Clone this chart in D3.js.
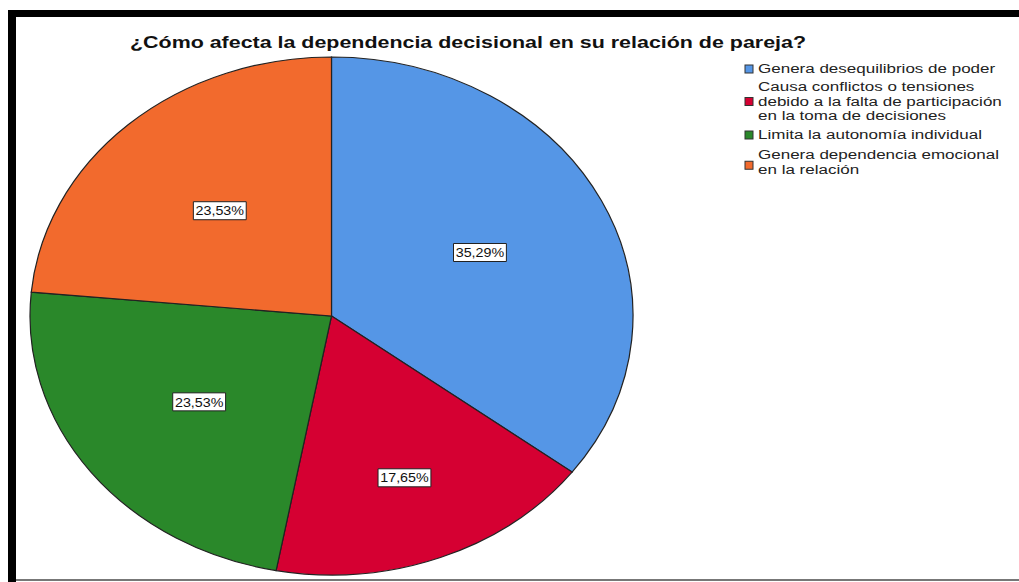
<!DOCTYPE html>
<html lang="es">
<head>
<meta charset="UTF-8">
<title>Dependencia decisional</title>
<script src="https://d3js.org/d3.v7.min.js"></script>
<style>
  body { margin: 0; background: #fff; }
  svg { display: block; font-family: "Liberation Sans", Arial, sans-serif; }
  .slice { stroke: #222; stroke-width: 1.2px; vector-effect: non-scaling-stroke; }
  .lbl text { font-size: 13px; fill: #111; }
  .legend text { font-size: 13.5px; fill: #222; }
</style>
</head>
<body>
<script>
// chart data (counts, n = 17)
const categories = [
  "Genera desequilibrios de poder",
  "Causa conflictos o tensiones debido a la falta de participación en la toma de decisiones",
  "Limita la autonomía individual",
  "Genera dependencia emocional en la relación"
];
const legendLines = [
  ["Genera desequilibrios de poder"],
  ["Causa conflictos o tensiones", "debido a la falta de participación", "en la toma de decisiones"],
  ["Limita la autonomía individual"],
  ["Genera dependencia emocional", "en la relación"]
];
const counts = [6, 3, 4, 4];
const colors = ["#5596e6", "#d50032", "#2a882a", "#f26a2d"];
const title = "¿Cómo afecta la dependencia decisional en su relación de pareja?";

const W = 1019, H = 582;
const svg = d3.select("body").append("svg").attr("width", W).attr("height", H);

// frame
svg.append("rect").attr("x", 8).attr("y", 10).attr("width", W - 8).attr("height", 7).attr("fill", "#000");
svg.append("rect").attr("x", 8).attr("y", 10).attr("width", 8).attr("height", H - 10).attr("fill", "#000");
svg.append("rect").attr("x", 16).attr("y", 579).attr("width", W - 16).attr("height", 2).attr("fill", "#777");

svg.append("text")
  .attr("x", 130).attr("y", 48)
  .attr("textLength", 676).attr("lengthAdjust", "spacingAndGlyphs")
  .attr("font-size", 17).attr("font-weight", "bold").attr("fill", "#111")
  .text(title);

// pie (circle stretched into an ellipse)
const cx = 331.5, cy = 316, rx = 301.5, ry = 259;
const R = 100;
const total = d3.sum(counts);
const pie = d3.pie().sort(null).value(d => d)(counts);
const arc = d3.arc().innerRadius(0).outerRadius(R);

const g = svg.append("g").attr("transform", `translate(${cx},${cy}) scale(${rx / R},${ry / R})`);
g.selectAll("path").data(pie).enter().append("path")
  .attr("class", "slice")
  .attr("d", arc)
  .attr("fill", (d, i) => colors[i]);

// percentage labels
const fmt = v => d3.format(".2f")(v).replace(".", ",") + "%";
const lbl = svg.append("g").attr("class", "lbl").selectAll("g").data(pie).enter().append("g")
  .attr("transform", d => {
    const a = (d.startAngle + d.endAngle) / 2;
    const f = (d.endAngle - d.startAngle) < 1.2 ? 0.67 : 0.55;
    return `translate(${cx + Math.sin(a) * rx * f},${cy - Math.cos(a) * ry * f}) scale(1.1,1)`;
  });
lbl.append("text")
  .attr("text-anchor", "middle").attr("dy", "0.36em")
  .text(d => fmt(d.data / total * 100));
lbl.each(function () {
  const b = d3.select(this).select("text").node().getBBox();
  d3.select(this).insert("rect", "text")
    .attr("x", b.x - 2).attr("y", -9)
    .attr("width", b.width + 4).attr("height", 18)
    .attr("fill", "#fff").attr("stroke", "#222").attr("stroke-width", 1)
    .attr("vector-effect", "non-scaling-stroke");
});

// legend
const rowTop = [62, 80, 128, 148];
const lineH = 14.5;
const leg = svg.append("g").attr("class", "legend");
legendLines.forEach((lines, i) => {
  const y0 = rowTop[i];
  const mid = y0 + (lines.length - 1) * lineH / 2;
  leg.append("rect")
    .attr("x", 745).attr("y", mid + 3 + (lines.length === 2 ? 3 : 0))
    .attr("width", 8).attr("height", 8)
    .attr("fill", colors[i]).attr("stroke", "#333").attr("stroke-width", 1);
  lines.forEach((t, j) => {
    leg.append("text")
      .attr("transform", `translate(758,${y0 + 11 + j * lineH}) scale(1.26,1)`)
      .text(t);
  });
});
</script>
</body>
</html>
